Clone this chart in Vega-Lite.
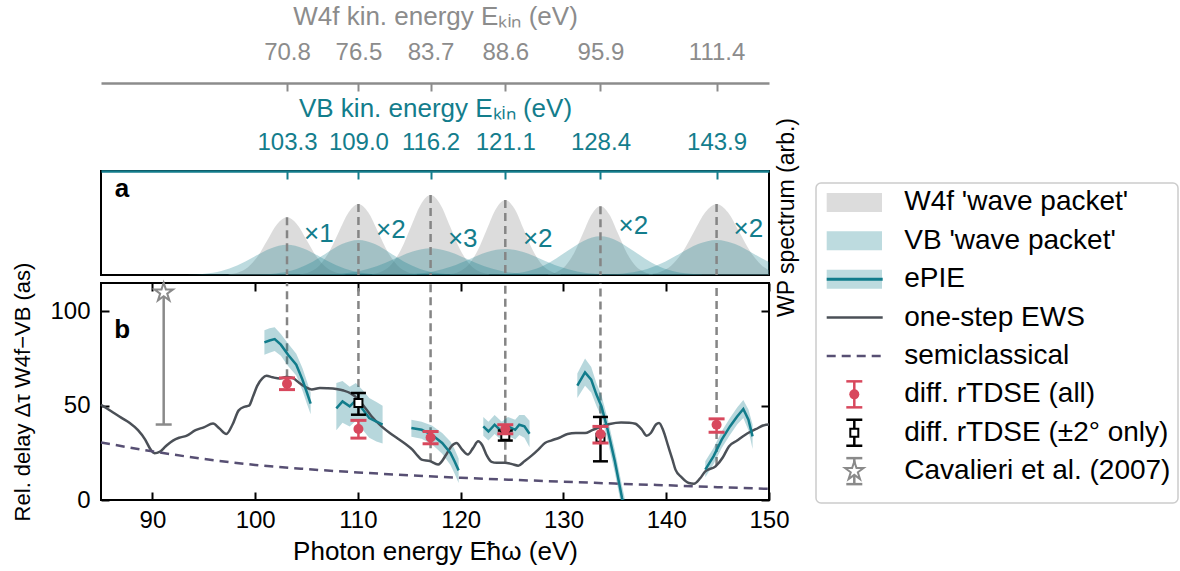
{
"$schema": "https://vega.github.io/schema/vega-lite/v6.json",
"background": "white",
"padding": {"left": 10, "top": 2, "right": 0, "bottom": 0},
"config": {
  "font": "Liberation Sans",
  "view": {"stroke": "#000000", "strokeWidth": 2},
  "axis": {"grid": false, "domain": false, "labelFontSize": 24, "titleFontSize": 26, "titleFontWeight": "normal", "labelColor": "#000000", "titleColor": "#000000", "tickColor": "#000000", "tickWidth": 2, "tickSize": -8, "labelFlush": false, "labelOverlap": false, "labelFont": "Liberation Sans", "titleFont": "Liberation Sans"}
},
"datasets": {
  "vl": [
    {"E": 103.1, "peak": 0.555, "ews": 65},
    {"E": 110.05, "peak": 0.683, "ews": 53},
    {"E": 117.07, "peak": 0.769, "ews": 20.5},
    {"E": 124.34, "peak": 0.721, "ews": 19.8},
    {"E": 133.6, "peak": 0.66, "ews": 39},
    {"E": 144.9, "peak": 0.683, "ews": 18.5}
  ],
  "mult": [
    {"t": "×1", "E": 106.2, "A": 0.39},
    {"t": "×2", "E": 113.2, "A": 0.43},
    {"t": "×3", "E": 120.2, "A": 0.35},
    {"t": "×2", "E": 127.5, "A": 0.35},
    {"t": "×2", "E": 136.8, "A": 0.47},
    {"t": "×2", "E": 148.0, "A": 0.44}
  ],
  "wp": [
    {"k":"W","p":"W1","E":97.4,"A":0.006},{"k":"W","p":"W1","E":98.35,"A":0.024},{"k":"W","p":"W1","E":99.3,"A":0.075},{"k":"W","p":"W1","E":100.25,"A":0.18},{"k":"W","p":"W1","E":101.2,"A":0.337},{"k":"W","p":"W1","E":102.15,"A":0.49},{"k":"W","p":"W1","E":103.1,"A":0.555},{"k":"W","p":"W1","E":104.05,"A":0.49},{"k":"W","p":"W1","E":105.0,"A":0.337},{"k":"W","p":"W1","E":105.95,"A":0.18},{"k":"W","p":"W1","E":106.9,"A":0.075},{"k":"W","p":"W1","E":107.85,"A":0.024},{"k":"W","p":"W1","E":108.8,"A":0.006},
    {"k":"W","p":"W2","E":104.35,"A":0.008},{"k":"W","p":"W2","E":105.3,"A":0.03},{"k":"W","p":"W2","E":106.25,"A":0.092},{"k":"W","p":"W2","E":107.2,"A":0.222},{"k":"W","p":"W2","E":108.15,"A":0.415},{"k":"W","p":"W2","E":109.1,"A":0.603},{"k":"W","p":"W2","E":110.05,"A":0.683},{"k":"W","p":"W2","E":111.0,"A":0.603},{"k":"W","p":"W2","E":111.95,"A":0.415},{"k":"W","p":"W2","E":112.9,"A":0.222},{"k":"W","p":"W2","E":113.85,"A":0.092},{"k":"W","p":"W2","E":114.8,"A":0.03},{"k":"W","p":"W2","E":115.75,"A":0.008},
    {"k":"W","p":"W3","E":111.37,"A":0.008},{"k":"W","p":"W3","E":112.32,"A":0.034},{"k":"W","p":"W3","E":113.27,"A":0.104},{"k":"W","p":"W3","E":114.22,"A":0.25},{"k":"W","p":"W3","E":115.17,"A":0.467},{"k":"W","p":"W3","E":116.12,"A":0.679},{"k":"W","p":"W3","E":117.07,"A":0.769},{"k":"W","p":"W3","E":118.02,"A":0.679},{"k":"W","p":"W3","E":118.97,"A":0.467},{"k":"W","p":"W3","E":119.92,"A":0.25},{"k":"W","p":"W3","E":120.87,"A":0.104},{"k":"W","p":"W3","E":121.82,"A":0.034},{"k":"W","p":"W3","E":122.77,"A":0.008},
    {"k":"W","p":"W4","E":118.94,"A":0.008},{"k":"W","p":"W4","E":119.84,"A":0.032},{"k":"W","p":"W4","E":120.74,"A":0.097},{"k":"W","p":"W4","E":121.64,"A":0.234},{"k":"W","p":"W4","E":122.54,"A":0.438},{"k":"W","p":"W4","E":123.44,"A":0.637},{"k":"W","p":"W4","E":124.34,"A":0.721},{"k":"W","p":"W4","E":125.24,"A":0.637},{"k":"W","p":"W4","E":126.14,"A":0.438},{"k":"W","p":"W4","E":127.04,"A":0.234},{"k":"W","p":"W4","E":127.94,"A":0.097},{"k":"W","p":"W4","E":128.84,"A":0.032},{"k":"W","p":"W4","E":129.74,"A":0.008},
    {"k":"W","p":"W5","E":128.5,"A":0.007},{"k":"W","p":"W5","E":129.35,"A":0.029},{"k":"W","p":"W5","E":130.2,"A":0.089},{"k":"W","p":"W5","E":131.05,"A":0.215},{"k":"W","p":"W5","E":131.9,"A":0.401},{"k":"W","p":"W5","E":132.75,"A":0.583},{"k":"W","p":"W5","E":133.6,"A":0.66},{"k":"W","p":"W5","E":134.45,"A":0.583},{"k":"W","p":"W5","E":135.3,"A":0.401},{"k":"W","p":"W5","E":136.15,"A":0.215},{"k":"W","p":"W5","E":137.0,"A":0.089},{"k":"W","p":"W5","E":137.85,"A":0.029},{"k":"W","p":"W5","E":138.7,"A":0.007},
    {"k":"W","p":"W6","E":138.3,"A":0.008},{"k":"W","p":"W6","E":139.4,"A":0.03},{"k":"W","p":"W6","E":140.5,"A":0.092},{"k":"W","p":"W6","E":141.6,"A":0.222},{"k":"W","p":"W6","E":142.7,"A":0.415},{"k":"W","p":"W6","E":143.8,"A":0.603},{"k":"W","p":"W6","E":144.9,"A":0.683},{"k":"W","p":"W6","E":146.0,"A":0.603},{"k":"W","p":"W6","E":147.1,"A":0.415},{"k":"W","p":"W6","E":148.2,"A":0.222},{"k":"W","p":"W6","E":149.3,"A":0.092},{"k":"W","p":"W6","E":150.4,"A":0.03},{"k":"W","p":"W6","E":151.5,"A":0.008},
    {"k":"V","p":"V1","E":93.5,"A":0.003},{"k":"V","p":"V1","E":95.1,"A":0.013},{"k":"V","p":"V1","E":96.7,"A":0.039},{"k":"V","p":"V1","E":98.3,"A":0.094},{"k":"V","p":"V1","E":99.9,"A":0.176},{"k":"V","p":"V1","E":101.5,"A":0.256},{"k":"V","p":"V1","E":103.1,"A":0.29},{"k":"V","p":"V1","E":104.7,"A":0.256},{"k":"V","p":"V1","E":106.3,"A":0.176},{"k":"V","p":"V1","E":107.9,"A":0.094},{"k":"V","p":"V1","E":109.5,"A":0.039},{"k":"V","p":"V1","E":111.1,"A":0.013},{"k":"V","p":"V1","E":112.7,"A":0.003},
    {"k":"V","p":"V2","E":100.45,"A":0.004},{"k":"V","p":"V2","E":102.05,"A":0.015},{"k":"V","p":"V2","E":103.65,"A":0.045},{"k":"V","p":"V2","E":105.25,"A":0.11},{"k":"V","p":"V2","E":106.85,"A":0.205},{"k":"V","p":"V2","E":108.45,"A":0.298},{"k":"V","p":"V2","E":110.05,"A":0.337},{"k":"V","p":"V2","E":111.65,"A":0.298},{"k":"V","p":"V2","E":113.25,"A":0.205},{"k":"V","p":"V2","E":114.85,"A":0.11},{"k":"V","p":"V2","E":116.45,"A":0.045},{"k":"V","p":"V2","E":118.05,"A":0.015},{"k":"V","p":"V2","E":119.65,"A":0.004},
    {"k":"V","p":"V3","E":106.57,"A":0.003},{"k":"V","p":"V3","E":108.32,"A":0.011},{"k":"V","p":"V3","E":110.07,"A":0.035},{"k":"V","p":"V3","E":111.82,"A":0.084},{"k":"V","p":"V3","E":113.57,"A":0.156},{"k":"V","p":"V3","E":115.32,"A":0.227},{"k":"V","p":"V3","E":117.07,"A":0.257},{"k":"V","p":"V3","E":118.82,"A":0.227},{"k":"V","p":"V3","E":120.57,"A":0.156},{"k":"V","p":"V3","E":122.32,"A":0.084},{"k":"V","p":"V3","E":124.07,"A":0.035},{"k":"V","p":"V3","E":125.82,"A":0.011},{"k":"V","p":"V3","E":127.57,"A":0.003},
    {"k":"V","p":"V4","E":113.84,"A":0.003},{"k":"V","p":"V4","E":115.59,"A":0.011},{"k":"V","p":"V4","E":117.34,"A":0.034},{"k":"V","p":"V4","E":119.09,"A":0.081},{"k":"V","p":"V4","E":120.84,"A":0.152},{"k":"V","p":"V4","E":122.59,"A":0.221},{"k":"V","p":"V4","E":124.34,"A":0.25},{"k":"V","p":"V4","E":126.09,"A":0.221},{"k":"V","p":"V4","E":127.84,"A":0.152},{"k":"V","p":"V4","E":129.59,"A":0.081},{"k":"V","p":"V4","E":131.34,"A":0.034},{"k":"V","p":"V4","E":133.09,"A":0.011},{"k":"V","p":"V4","E":134.84,"A":0.003},
    {"k":"V","p":"V5","E":123.7,"A":0.004},{"k":"V","p":"V5","E":125.35,"A":0.016},{"k":"V","p":"V5","E":127.0,"A":0.05},{"k":"V","p":"V5","E":128.65,"A":0.121},{"k":"V","p":"V5","E":130.3,"A":0.226},{"k":"V","p":"V5","E":131.95,"A":0.328},{"k":"V","p":"V5","E":133.6,"A":0.372},{"k":"V","p":"V5","E":135.25,"A":0.328},{"k":"V","p":"V5","E":136.9,"A":0.226},{"k":"V","p":"V5","E":138.55,"A":0.121},{"k":"V","p":"V5","E":140.2,"A":0.05},{"k":"V","p":"V5","E":141.85,"A":0.016},{"k":"V","p":"V5","E":143.5,"A":0.004},
    {"k":"V","p":"V6","E":134.1,"A":0.004},{"k":"V","p":"V6","E":135.9,"A":0.015},{"k":"V","p":"V6","E":137.7,"A":0.045},{"k":"V","p":"V6","E":139.5,"A":0.11},{"k":"V","p":"V6","E":141.3,"A":0.205},{"k":"V","p":"V6","E":143.1,"A":0.298},{"k":"V","p":"V6","E":144.9,"A":0.337},{"k":"V","p":"V6","E":146.7,"A":0.298},{"k":"V","p":"V6","E":148.5,"A":0.205},{"k":"V","p":"V6","E":150.3,"A":0.11},{"k":"V","p":"V6","E":152.1,"A":0.045},{"k":"V","p":"V6","E":153.9,"A":0.015},{"k":"V","p":"V6","E":155.7,"A":0.004}
  ],
  "ews": [
    {"E":85.0,"v":50.5},{"E":86.0,"v":47.0},{"E":87.0,"v":43.5},{"E":87.8,"v":40.8},{"E":88.6,"v":37.0},{"E":89.3,"v":32.0},{"E":89.8,"v":27.0},{"E":90.2,"v":24.8},{"E":90.7,"v":25.5},{"E":91.3,"v":28.5},{"E":92.0,"v":31.5},{"E":92.6,"v":33.0},{"E":93.3,"v":34.0},{"E":94.2,"v":37.0},{"E":95.0,"v":38.5},{"E":95.9,"v":40.5},{"E":96.5,"v":38.0},{"E":97.2,"v":35.0},{"E":97.8,"v":40.0},{"E":98.4,"v":47.5},{"E":99.0,"v":49.5},{"E":99.4,"v":50.0},{"E":99.8,"v":55.0},{"E":100.2,"v":60.5},{"E":100.7,"v":64.5},{"E":101.1,"v":65.8},{"E":101.7,"v":65.0},{"E":102.4,"v":64.4},{"E":103.0,"v":65.2},{"E":103.6,"v":64.8},{"E":104.3,"v":62.0},{"E":105.0,"v":59.5},{"E":105.5,"v":58.6},{"E":106.3,"v":59.3},{"E":107.0,"v":59.2},{"E":107.9,"v":58.8},{"E":108.6,"v":58.0},{"E":109.3,"v":56.5},{"E":110.0,"v":53.5},{"E":110.6,"v":49.6},{"E":111.3,"v":44.5},{"E":112.3,"v":39.0},{"E":113.1,"v":35.5},{"E":113.9,"v":32.5},{"E":114.6,"v":29.8},{"E":115.3,"v":26.7},{"E":115.8,"v":23.5},{"E":116.2,"v":21.4},{"E":117.0,"v":20.6},{"E":117.8,"v":18.8},{"E":118.6,"v":24.1},{"E":119.1,"v":28.5},{"E":119.6,"v":30.2},{"E":120.1,"v":27.0},{"E":120.7,"v":24.1},{"E":121.2,"v":27.5},{"E":121.7,"v":31.1},{"E":122.1,"v":29.0},{"E":122.5,"v":24.0},{"E":123.0,"v":20.2},{"E":123.5,"v":19.7},{"E":124.3,"v":19.8},{"E":125.0,"v":19.0},{"E":125.6,"v":18.2},{"E":126.2,"v":20.5},{"E":126.9,"v":23.5},{"E":127.6,"v":27.0},{"E":128.2,"v":30.2},{"E":128.8,"v":31.5},{"E":129.6,"v":33.0},{"E":130.4,"v":35.0},{"E":131.2,"v":35.5},{"E":132.1,"v":35.5},{"E":132.8,"v":37.0},{"E":133.7,"v":39.0},{"E":134.5,"v":40.3},{"E":135.6,"v":41.1},{"E":136.4,"v":41.0},{"E":137.0,"v":40.4},{"E":137.6,"v":37.5},{"E":138.1,"v":34.0},{"E":138.5,"v":35.5},{"E":139.0,"v":40.0},{"E":139.3,"v":40.8},{"E":139.7,"v":37.0},{"E":140.2,"v":28.4},{"E":140.6,"v":21.5},{"E":140.9,"v":16.1},{"E":141.5,"v":12.0},{"E":142.2,"v":9.0},{"E":142.7,"v":8.6},{"E":143.3,"v":11.5},{"E":143.8,"v":15.2},{"E":144.8,"v":17.8},{"E":145.5,"v":22.5},{"E":146.1,"v":28.4},{"E":146.9,"v":31.5},{"E":147.7,"v":34.6},{"E":148.7,"v":37.5},{"E":149.7,"v":39.9},{"E":150.0,"v":40.0}
  ],
  "semi": [
    {"E":85,"v":30.5},{"E":90,"v":25.8},{"E":95,"v":21.8},{"E":100,"v":18.6},{"E":105,"v":16.4},{"E":110,"v":14.6},{"E":115,"v":13.1},{"E":120,"v":11.8},{"E":125,"v":10.7},{"E":130,"v":9.7},{"E":135,"v":8.7},{"E":140,"v":7.8},{"E":145,"v":6.8},{"E":150,"v":5.9}
  ],
  "epie": [
    {"s":"A","E":100.9,"v":83.5,"lo":77,"hi":90},{"s":"A","E":101.4,"v":84.5,"lo":78,"hi":91},{"s":"A","E":101.9,"v":85.3,"lo":79,"hi":91.5},{"s":"A","E":102.5,"v":82.3,"lo":76.5,"hi":88},{"s":"A","E":103.2,"v":77.0,"lo":71,"hi":83},{"s":"A","E":104.0,"v":71.7,"lo":66,"hi":77.5},{"s":"A","E":104.6,"v":63.8,"lo":58,"hi":70},{"s":"A","E":105.0,"v":57.5,"lo":51.5,"hi":63.5},{"s":"A","E":105.4,"v":51.1,"lo":45.5,"hi":57},
    {"s":"B","E":107.9,"v":48.6,"lo":37,"hi":62},{"s":"B","E":108.5,"v":52.2,"lo":41,"hi":63},{"s":"B","E":109.2,"v":49.6,"lo":39,"hi":60},{"s":"B","E":109.8,"v":52.8,"lo":42,"hi":62},{"s":"B","E":110.5,"v":47.8,"lo":37,"hi":58},{"s":"B","E":111.1,"v":43.4,"lo":33,"hi":54},{"s":"B","E":111.8,"v":41.6,"lo":31,"hi":52},{"s":"B","E":112.4,"v":39.9,"lo":30,"hi":50},
    {"s":"C","E":115.2,"v":38.1,"lo":33.5,"hi":42.5},{"s":"C","E":116.2,"v":37.2,"lo":32.5,"hi":41.5},{"s":"C","E":117.2,"v":34.6,"lo":29.5,"hi":39.5},{"s":"C","E":118.2,"v":30.2,"lo":24.5,"hi":35.5},{"s":"C","E":119.0,"v":24.9,"lo":18.5,"hi":31},{"s":"C","E":119.4,"v":20.5,"lo":14,"hi":27},{"s":"C","E":119.8,"v":15.7,"lo":9,"hi":22},
    {"s":"D","E":122.2,"v":39.0,"lo":34,"hi":44},{"s":"D","E":122.7,"v":36.3,"lo":31.5,"hi":41.5},{"s":"D","E":123.3,"v":39.9,"lo":35,"hi":45},{"s":"D","E":124.0,"v":36.3,"lo":31.5,"hi":41.5},{"s":"D","E":124.6,"v":39.0,"lo":34,"hi":44},{"s":"D","E":125.3,"v":37.2,"lo":32,"hi":42.5},{"s":"D","E":125.7,"v":39.9,"lo":34.5,"hi":45},{"s":"D","E":126.2,"v":39.0,"lo":33,"hi":45},{"s":"D","E":126.7,"v":35.1,"lo":28,"hi":42},
    {"s":"E","E":131.35,"v":60.6,"lo":54,"hi":67},{"s":"E","E":132.1,"v":67.6,"lo":60.5,"hi":75},{"s":"E","E":132.7,"v":63.8,"lo":57,"hi":70.5},{"s":"E","E":133.2,"v":56.0,"lo":50,"hi":62},{"s":"E","E":133.7,"v":49.6,"lo":44,"hi":55.5},{"s":"E","E":134.3,"v":37.2,"lo":31.5,"hi":43},{"s":"E","E":135.0,"v":20.5,"lo":14.5,"hi":26.5},{"s":"E","E":135.7,"v":1.1,"lo":-5,"hi":7.5},{"s":"E","E":136.0,"v":-6,"lo":-12,"hi":0},
    {"s":"F","E":143.8,"v":16.1,"lo":12,"hi":20.5},{"s":"F","E":144.6,"v":23.1,"lo":19,"hi":27.5},{"s":"F","E":145.4,"v":32.0,"lo":27.5,"hi":36.5},{"s":"F","E":146.2,"v":39.0,"lo":34.5,"hi":43.5},{"s":"F","E":146.9,"v":44.3,"lo":40,"hi":49},{"s":"F","E":147.5,"v":48.2,"lo":43.5,"hi":53},{"s":"F","E":148.0,"v":42.6,"lo":37,"hi":48},{"s":"F","E":148.4,"v":33.7,"lo":27,"hi":40}
  ],
  "rall": [
    {"E":103.1,"v":61.6,"lo":58.5,"hi":64.7},{"E":110.05,"v":37.6,"lo":32.8,"hi":42.2},{"E":117.07,"v":33.1,"lo":29.8,"hi":36.3},{"E":124.34,"v":37.6,"lo":35.1,"hi":39.9},{"E":133.6,"v":34.9,"lo":30.2,"hi":39.0},{"E":144.9,"v":39.9,"lo":35.9,"hi":43.0}
  ],
  "r2": [
    {"E":110.05,"v":51.4,"lo":45.2,"hi":56.7},{"E":124.34,"v":34.0,"lo":31.5,"hi":36.8},{"E":133.6,"v":33.0,"lo":20.5,"hi":44.0}
  ],
  "cav": [{"E":91.1,"v":110,"lo":40,"hi":180}],
  "leg": [
    {"row":0,"label":"W4f 'wave packet'"},{"row":1,"label":"VB 'wave packet'"},{"row":2,"label":"ePIE"},{"row":3,"label":"one-step EWS"},{"row":4,"label":"semiclassical"},{"row":5,"label":"diff. rTDSE (all)"},{"row":6,"label":"diff. rTDSE (±2° only)"},{"row":7,"label":"Cavalieri et al. (2007)"}
  ]
},
"spacing": 16,
"hconcat": [
  {
    "spacing": 8,
    "bounds": "flush",
    "vconcat": [
      {
        "width": 668, "height": 104,
        "layer": [
          {
            "layer": [
              {
                "data": {"name": "wp"}, "transform": [{"filter": "datum.k == 'W'"}],
                "mark": {"type": "area", "color": "#9a9a9a", "opacity": 0.35, "interpolate": "monotone", "clip": true},
                "encoding": {
                  "x": {"field": "E", "type": "quantitative", "scale": {"domain": [85, 150], "nice": false, "zero": false},
                        "axis": {"orient": "top", "values": [103.1, 110.05, 117.07, 124.34, 133.6, 144.9],
                                 "labelExpr": "datum.value < 106 ? '103.3' : datum.value < 113 ? '109.0' : datum.value < 120 ? '116.2' : datum.value < 128 ? '121.1' : datum.value < 138 ? '128.4' : '143.9'",
                                 "title": "VB kin. energy Eₖᵢₙ (eV)", "domain": true, "domainColor": "#137d8c", "domainWidth": 2.5,
                                 "tickColor": "#137d8c", "tickSize": -8, "tickWidth": 2, "labelColor": "#137d8c", "titleColor": "#137d8c",
                                 "labelPadding": 25, "titlePadding": 9}},
                  "y": {"field": "A", "type": "quantitative", "stack": null, "scale": {"domain": [0, 1], "nice": false},
                        "axis": {"orient": "right", "title": "WP spectrum (arb.)", "labels": false, "ticks": false, "titleAngle": 270,
                                 "titleX": 17, "titleY": 46, "titleAlign": "center", "titleBaseline": "middle", "titleFontSize": 23}},
                  "detail": {"field": "p", "type": "nominal"}
                }
              },
              {
                "data": {"name": "wp"}, "transform": [{"filter": "datum.k == 'V'"}],
                "mark": {"type": "area", "color": "#117c8b", "opacity": 0.28, "interpolate": "monotone", "clip": true},
                "encoding": {
                  "x": {"field": "E", "type": "quantitative"},
                  "y": {"field": "A", "type": "quantitative", "stack": null},
                  "detail": {"field": "p", "type": "nominal"}
                }
              },
              {
                "data": {"name": "vl"},
                "mark": {"type": "rule", "color": "#858585", "strokeWidth": 2.5, "strokeDash": [8, 5]},
                "encoding": {"x": {"field": "E", "type": "quantitative"}, "y": {"field": "peak", "type": "quantitative"}, "y2": {"datum": 0}}
              },
              {
                "data": {"name": "mult"},
                "mark": {"type": "text", "color": "#137d8c", "fontSize": 26},
                "encoding": {"x": {"field": "E", "type": "quantitative"}, "y": {"field": "A", "type": "quantitative"}, "text": {"field": "t", "type": "nominal"}}
              },
              {
                "data": {"values": [{"t": "a", "E": 87.05, "A": 0.83}]},
                "mark": {"type": "text", "fontSize": 26, "fontWeight": "bold", "color": "#000000"},
                "encoding": {"x": {"field": "E", "type": "quantitative"}, "y": {"field": "A", "type": "quantitative"}, "text": {"field": "t", "type": "nominal"}}
              }
            ]
          },
          {
            "data": {"name": "vl"},
            "mark": {"type": "point", "opacity": 0},
            "encoding": {
              "x": {"field": "E", "type": "quantitative", "scale": {"domain": [85, 150], "nice": false, "zero": false},
                    "axis": {"orient": "top", "offset": 88, "values": [103.1, 110.05, 117.07, 124.34, 133.6, 144.9],
                             "labelExpr": "datum.value < 106 ? '70.8' : datum.value < 113 ? '76.5' : datum.value < 120 ? '83.7' : datum.value < 128 ? '88.6' : datum.value < 138 ? '95.9' : '111.4'",
                             "title": "W4f kin. energy Eₖᵢₙ (eV)", "domain": true, "domainColor": "#8c8c8c", "domainWidth": 2.5,
                             "tickColor": "#8c8c8c", "tickSize": -8, "tickWidth": 2, "labelColor": "#8c8c8c", "titleColor": "#8c8c8c",
                             "labelPadding": 27, "titlePadding": 11}},
              "y": {"field": "peak", "type": "quantitative"}
            }
          }
        ],
        "resolve": {"scale": {"x": "independent"}, "axis": {"x": "independent"}}
      },
      {
        "width": 668, "height": 217,
        "layer": [
          {
            "layer": [
              {
                "data": {"name": "vl"},
                "mark": {"type": "rule", "color": "#858585", "strokeWidth": 2.5, "strokeDash": [8, 5]},
                "encoding": {"x": {"field": "E", "type": "quantitative", "scale": {"domain": [85, 150], "nice": false, "zero": false}},
                             "y": {"field": "ews", "type": "quantitative", "scale": {"domain": [0, 115], "nice": false}}, "y2": {"datum": 115}}
              },
              {
                "data": {"name": "epie"},
                "mark": {"type": "area", "color": "#117c8b", "opacity": 0.3, "clip": true},
                "encoding": {"x": {"field": "E", "type": "quantitative"}, "y": {"field": "lo", "type": "quantitative"}, "y2": {"field": "hi"}, "detail": {"field": "s", "type": "nominal"}}
              },
              {
                "data": {"name": "ews"},
                "mark": {"type": "line", "color": "#4b5057", "strokeWidth": 2.5, "interpolate": "monotone"},
                "encoding": {
                  "x": {"field": "E", "type": "quantitative",
                        "axis": {"orient": "bottom", "values": [90, 100, 110, 120, 130, 140, 150], "tickSize": -8, "labelPadding": 16, "title": "Photon energy Eħω (eV)", "titlePadding": 6}},
                  "y": {"field": "v", "type": "quantitative",
                        "axis": {"orient": "left", "values": [0, 50, 100], "tickSize": -8, "labelPadding": 19, "title": "Rel. delay Δτ W4f−VB (as)", "titlePadding": 15, "titleFontSize": 22}}
                }
              },
              {
                "data": {"name": "semi"},
                "mark": {"type": "line", "color": "#574f73", "strokeWidth": 2.5, "strokeDash": [9, 6], "interpolate": "monotone"},
                "encoding": {"x": {"field": "E", "type": "quantitative"}, "y": {"field": "v", "type": "quantitative"}}
              },
              {
                "data": {"name": "epie"},
                "mark": {"type": "line", "color": "#117c8b", "strokeWidth": 2.5, "clip": true},
                "encoding": {"x": {"field": "E", "type": "quantitative"}, "y": {"field": "v", "type": "quantitative"}, "detail": {"field": "s", "type": "nominal"}}
              },
              {
                "data": {"name": "r2"},
                "mark": {"type": "rule", "color": "#000000", "strokeWidth": 2.5},
                "encoding": {"x": {"field": "E", "type": "quantitative"}, "y": {"field": "lo", "type": "quantitative"}, "y2": {"field": "hi"}}
              },
              {
                "data": {"name": "r2"},
                "mark": {"type": "tick", "orient": "horizontal", "color": "#000000", "size": 15, "thickness": 2.5, "opacity": 1},
                "encoding": {"x": {"field": "E", "type": "quantitative"}, "y": {"field": "lo", "type": "quantitative"}}
              },
              {
                "data": {"name": "r2"},
                "mark": {"type": "tick", "orient": "horizontal", "color": "#000000", "size": 15, "thickness": 2.5, "opacity": 1},
                "encoding": {"x": {"field": "E", "type": "quantitative"}, "y": {"field": "hi", "type": "quantitative"}}
              },
              {
                "data": {"name": "r2"},
                "mark": {"type": "point", "shape": "square", "filled": true, "fill": "#ffffff", "stroke": "#000000", "strokeWidth": 2, "size": 64, "opacity": 1},
                "encoding": {"x": {"field": "E", "type": "quantitative"}, "y": {"field": "v", "type": "quantitative"}}
              },
              {
                "data": {"name": "rall"},
                "mark": {"type": "rule", "color": "#d8485d", "strokeWidth": 2.5},
                "encoding": {"x": {"field": "E", "type": "quantitative"}, "y": {"field": "lo", "type": "quantitative"}, "y2": {"field": "hi"}}
              },
              {
                "data": {"name": "rall"},
                "mark": {"type": "tick", "orient": "horizontal", "color": "#d8485d", "size": 16, "thickness": 3, "opacity": 1},
                "encoding": {"x": {"field": "E", "type": "quantitative"}, "y": {"field": "lo", "type": "quantitative"}}
              },
              {
                "data": {"name": "rall"},
                "mark": {"type": "tick", "orient": "horizontal", "color": "#d8485d", "size": 16, "thickness": 3, "opacity": 1},
                "encoding": {"x": {"field": "E", "type": "quantitative"}, "y": {"field": "hi", "type": "quantitative"}}
              },
              {
                "data": {"name": "rall"},
                "mark": {"type": "point", "shape": "circle", "filled": true, "color": "#d8485d", "size": 100, "opacity": 1},
                "encoding": {"x": {"field": "E", "type": "quantitative"}, "y": {"field": "v", "type": "quantitative"}}
              },
              {
                "data": {"name": "cav"},
                "mark": {"type": "rule", "color": "#8a8a8a", "strokeWidth": 2.5, "clip": true},
                "encoding": {"x": {"field": "E", "type": "quantitative"}, "y": {"field": "lo", "type": "quantitative"}, "y2": {"field": "hi"}}
              },
              {
                "data": {"name": "cav"},
                "mark": {"type": "tick", "orient": "horizontal", "color": "#8a8a8a", "size": 16, "thickness": 2.5, "opacity": 1},
                "encoding": {"x": {"field": "E", "type": "quantitative"}, "y": {"field": "lo", "type": "quantitative"}}
              },
              {
                "data": {"name": "cav"},
                "mark": {"type": "point", "shape": "M0,-1L0.2245,-0.309L0.951,-0.309L0.363,0.118L0.588,0.809L0,0.382L-0.588,0.809L-0.363,0.118L-0.951,-0.309L-0.2245,-0.309Z", "filled": true, "fill": "#ffffff", "stroke": "#8a8a8a", "strokeWidth": 2, "size": 380, "opacity": 1},
                "encoding": {"x": {"field": "E", "type": "quantitative"}, "y": {"field": "v", "type": "quantitative"}}
              },
              {
                "data": {"values": [{"t": "b", "E": 87.05, "v": 90}]},
                "mark": {"type": "text", "fontSize": 26, "fontWeight": "bold", "color": "#000000"},
                "encoding": {"x": {"field": "E", "type": "quantitative"}, "y": {"field": "v", "type": "quantitative"}, "text": {"field": "t", "type": "nominal"}}
              }
            ]
          },
          {
            "data": {"name": "vl"},
            "mark": {"type": "point", "opacity": 0},
            "encoding": {
              "x": {"field": "E", "type": "quantitative", "scale": {"domain": [85, 150], "nice": false, "zero": false},
                    "axis": {"orient": "top", "values": [90, 100, 110, 120, 130, 140, 150], "labels": false, "tickSize": -8, "title": null}},
              "y": {"field": "ews", "type": "quantitative", "scale": {"domain": [0, 115], "nice": false},
                    "axis": {"orient": "right", "values": [0, 50, 100], "labels": false, "tickSize": -8, "title": null}}
            }
          }
        ],
        "resolve": {"scale": {"x": "independent", "y": "independent"}, "axis": {"x": "independent", "y": "independent"}}
      }
    ]
  },
  {
    "spacing": 5,
    "vconcat": [
      {
        "width": 362, "height": 2,
        "view": {"stroke": null},
        "data": {"values": [{"t": ""}]},
        "mark": {"type": "text"},
        "encoding": {"text": {"field": "t", "type": "nominal"}}
      },
      {
        "width": 362, "height": 320,
        "view": {"stroke": "#cccccc", "strokeWidth": 1.5, "cornerRadius": 5},
        "data": {"name": "leg"},
        "layer": [
          {
            "transform": [{"filter": "datum.row == 0"}],
            "mark": {"type": "rect", "color": "#9a9a9a", "opacity": 0.35, "yOffset": -9.5, "y2Offset": 9.5},
            "encoding": {
              "x": {"datum": 10.7, "type": "quantitative", "scale": {"domain": [0, 362], "nice": false, "zero": false}, "axis": null},
              "x2": {"datum": 66},
              "y": {"field": "row", "type": "quantitative", "scale": {"domain": [-0.505, 7.83], "reverse": true, "nice": false, "zero": false}, "axis": null},
              "y2": {"field": "row"}
            }
          },
          {
            "transform": [{"filter": "datum.row == 1 || datum.row == 2"}],
            "mark": {"type": "rect", "color": "#117c8b", "opacity": 0.28, "yOffset": -9.5, "y2Offset": 9.5},
            "encoding": {
              "x": {"datum": 10.7, "type": "quantitative"}, "x2": {"datum": 66},
              "y": {"field": "row", "type": "quantitative"}, "y2": {"field": "row"}
            }
          },
          {
            "transform": [{"filter": "datum.row == 2"}],
            "mark": {"type": "rule", "color": "#117c8b", "strokeWidth": 3},
            "encoding": {"x": {"datum": 10.7, "type": "quantitative"}, "x2": {"datum": 66.7}, "y": {"field": "row", "type": "quantitative"}}
          },
          {
            "transform": [{"filter": "datum.row == 3"}],
            "mark": {"type": "rule", "color": "#4b5057", "strokeWidth": 2.5},
            "encoding": {"x": {"datum": 10.7, "type": "quantitative"}, "x2": {"datum": 66.7}, "y": {"field": "row", "type": "quantitative"}}
          },
          {
            "transform": [{"filter": "datum.row == 4"}],
            "mark": {"type": "rule", "color": "#574f73", "strokeWidth": 2.5, "strokeDash": [9, 6]},
            "encoding": {"x": {"datum": 10.7, "type": "quantitative"}, "x2": {"datum": 66.7}, "y": {"field": "row", "type": "quantitative"}}
          },
          {
            "transform": [{"filter": "datum.row >= 5"}],
            "mark": {"type": "rule", "strokeWidth": 2.5, "yOffset": -13, "y2Offset": 13},
            "encoding": {
              "x": {"datum": 38.3, "type": "quantitative"},
              "y": {"field": "row", "type": "quantitative"}, "y2": {"field": "row"},
              "color": {"field": "label", "type": "nominal", "scale": {"domain": ["diff. rTDSE (all)", "diff. rTDSE (±2° only)", "Cavalieri et al. (2007)"], "range": ["#d8485d", "#000000", "#8a8a8a"]}, "legend": null}
            }
          },
          {
            "transform": [{"filter": "datum.row >= 5"}],
            "mark": {"type": "tick", "orient": "horizontal", "size": 16, "thickness": 2.5, "yOffset": -13, "opacity": 1},
            "encoding": {
              "x": {"datum": 38.3, "type": "quantitative"},
              "y": {"field": "row", "type": "quantitative"},
              "color": {"field": "label", "type": "nominal", "legend": null}
            }
          },
          {
            "transform": [{"filter": "datum.row >= 5"}],
            "mark": {"type": "tick", "orient": "horizontal", "size": 16, "thickness": 2.5, "yOffset": 13, "opacity": 1},
            "encoding": {
              "x": {"datum": 38.3, "type": "quantitative"},
              "y": {"field": "row", "type": "quantitative"},
              "color": {"field": "label", "type": "nominal", "legend": null}
            }
          },
          {
            "transform": [{"filter": "datum.row == 5"}],
            "mark": {"type": "point", "shape": "circle", "filled": true, "color": "#d8485d", "size": 100, "opacity": 1},
            "encoding": {"x": {"datum": 38.3, "type": "quantitative"}, "y": {"field": "row", "type": "quantitative"}}
          },
          {
            "transform": [{"filter": "datum.row == 6"}],
            "mark": {"type": "point", "shape": "square", "filled": true, "fill": "#ffffff", "stroke": "#000000", "strokeWidth": 2, "size": 64, "opacity": 1},
            "encoding": {"x": {"datum": 38.3, "type": "quantitative"}, "y": {"field": "row", "type": "quantitative"}}
          },
          {
            "transform": [{"filter": "datum.row == 7"}],
            "mark": {"type": "point", "shape": "M0,-1L0.2245,-0.309L0.951,-0.309L0.363,0.118L0.588,0.809L0,0.382L-0.588,0.809L-0.363,0.118L-0.951,-0.309L-0.2245,-0.309Z", "filled": true, "fill": "#ffffff", "stroke": "#8a8a8a", "strokeWidth": 2, "size": 380, "opacity": 1},
            "encoding": {"x": {"datum": 38.3, "type": "quantitative"}, "y": {"field": "row", "type": "quantitative"}}
          },
          {
            "mark": {"type": "text", "align": "left", "baseline": "middle", "fontSize": 28, "color": "#000000"},
            "encoding": {"x": {"datum": 88.3, "type": "quantitative"}, "y": {"field": "row", "type": "quantitative"}, "text": {"field": "label", "type": "nominal"}}
          }
        ]
      }
    ]
  }
]
}
